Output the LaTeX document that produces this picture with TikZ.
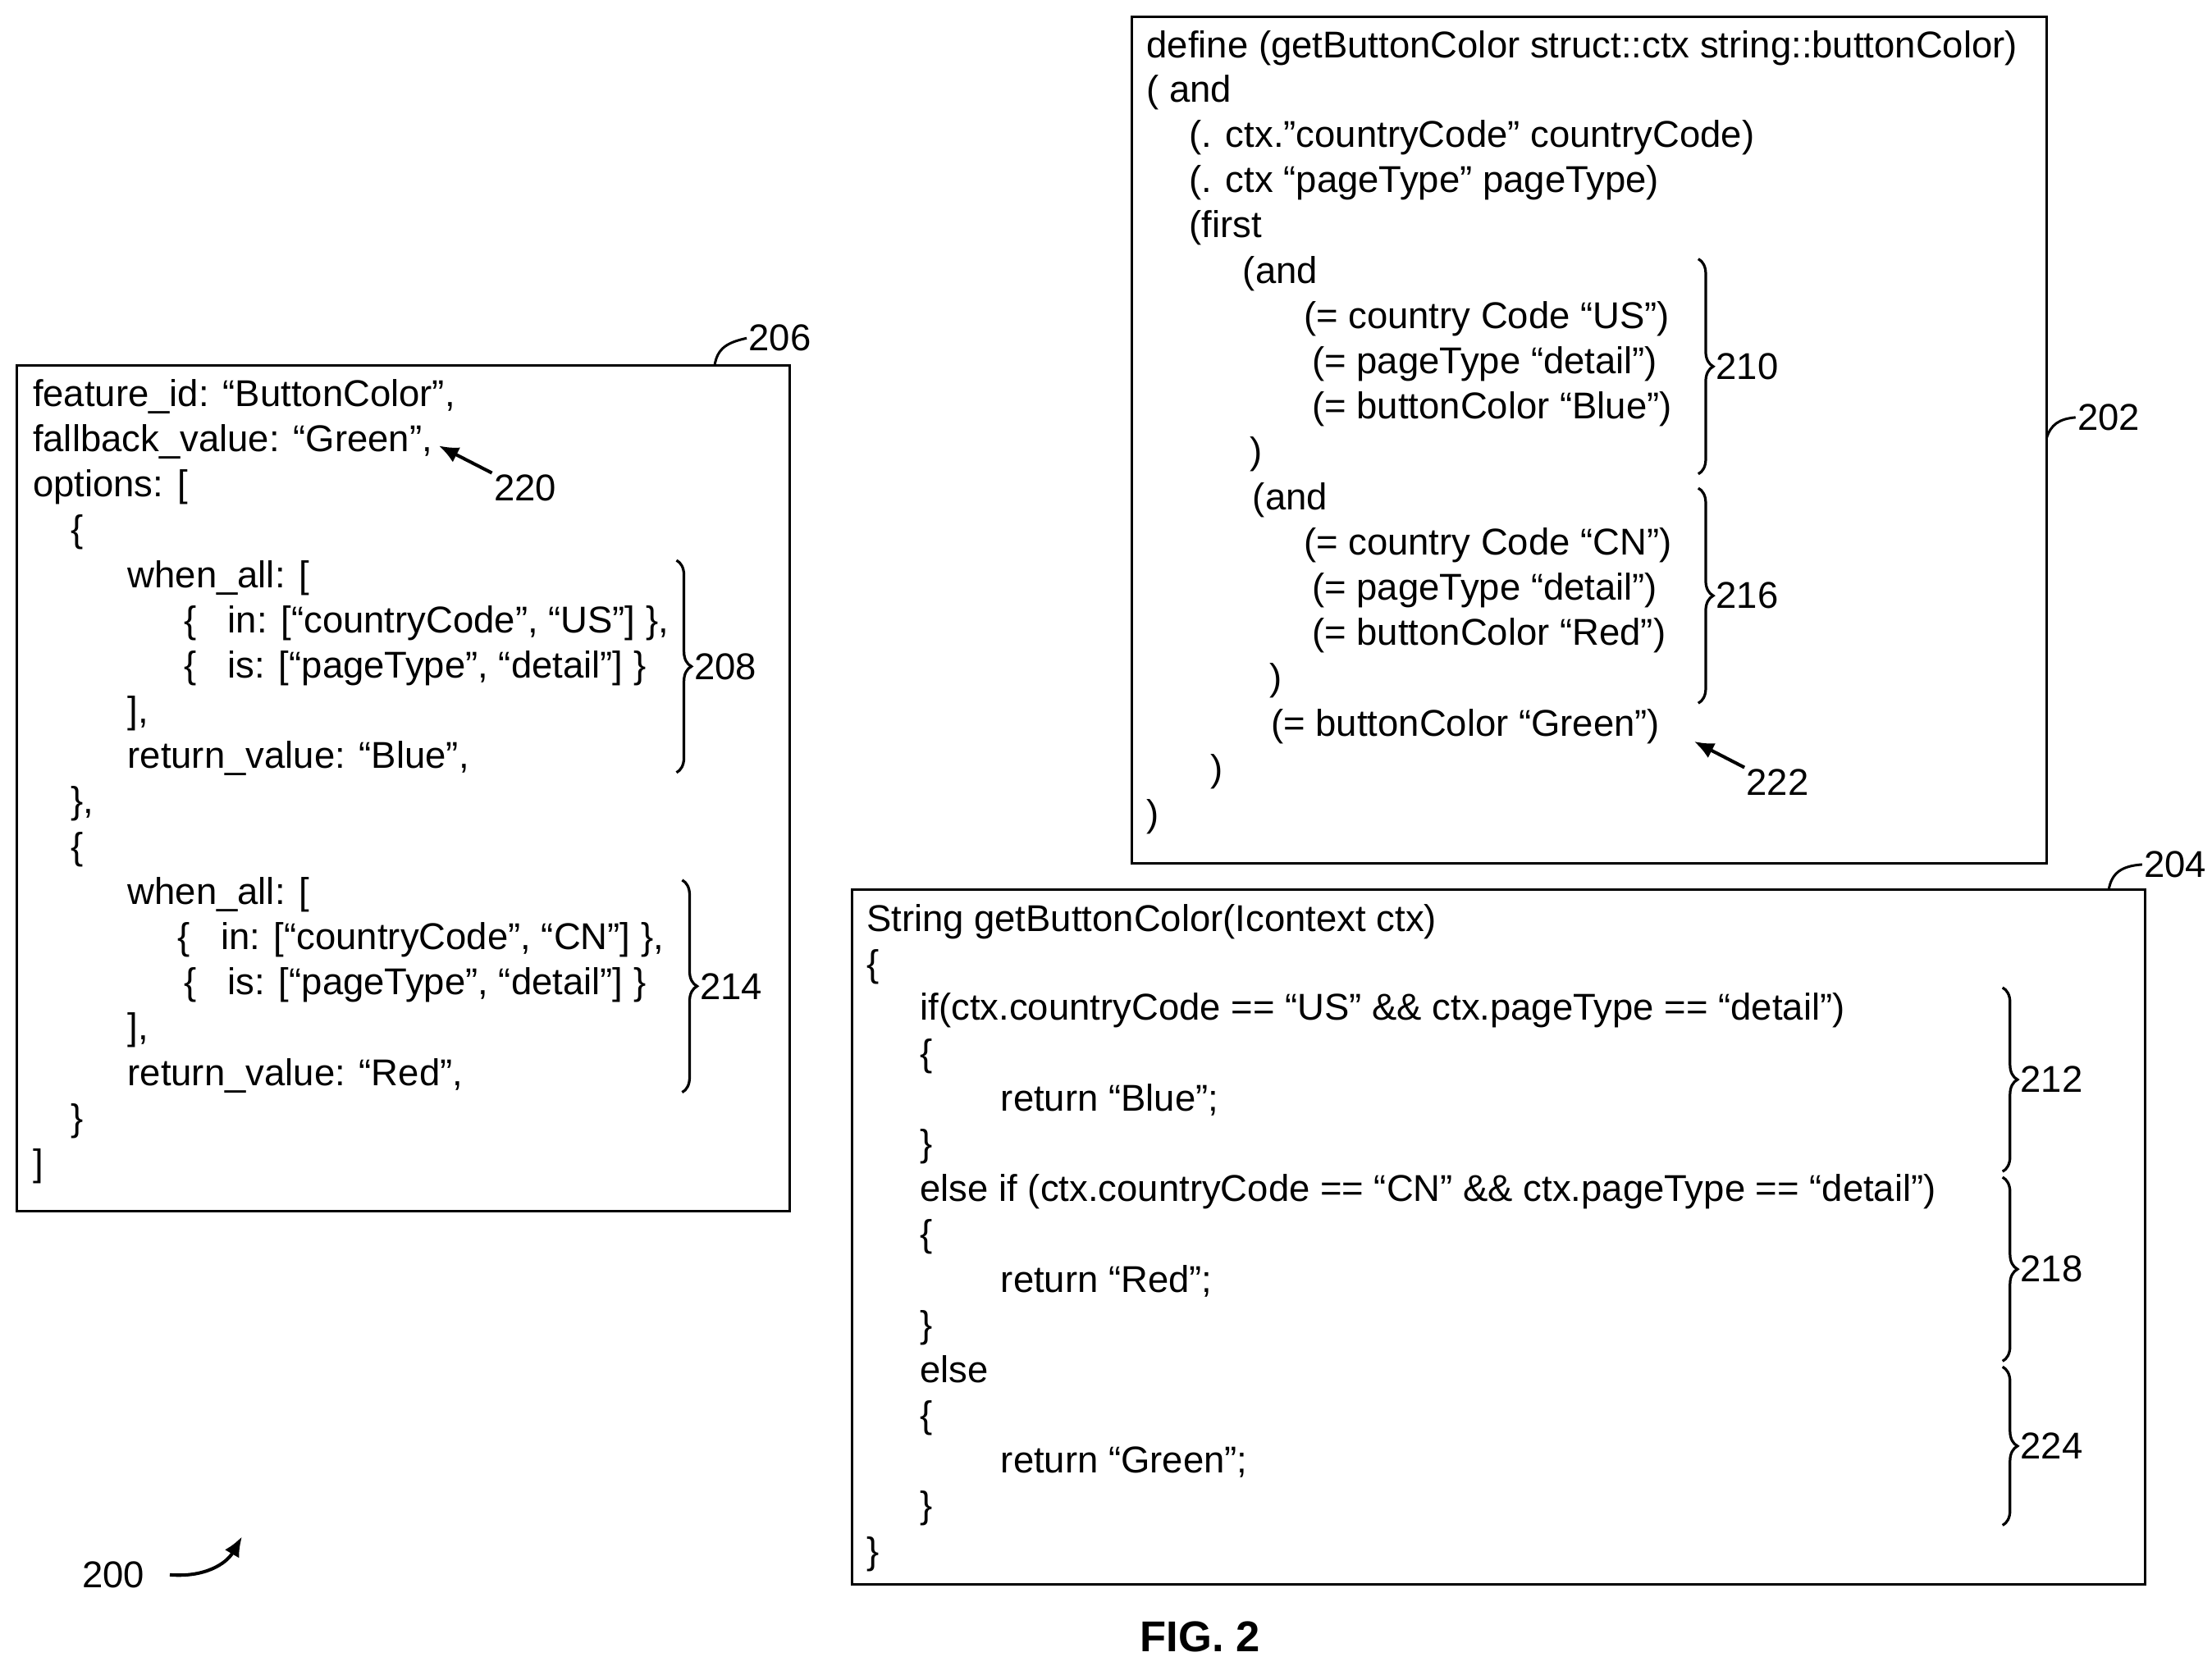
\documentclass[tikz,border=0pt]{standalone}
\usepackage{fontspec}
\setmainfont{Liberation Sans}
\usetikzlibrary{decorations.pathreplacing,arrows.meta}
\begin{document}
\begin{tikzpicture}
[x=0.3mm,y=-0.3mm,
  codeLine/.style={anchor=mid west,inner sep=0pt,font=\fontsize{22.5}{26}\selectfont},
  refLabel/.style={inner sep=1pt,font=\fontsize{22.5}{26}\selectfont},
  boxDecorate/.style={draw,line width=1.5pt},
  braceDecorate/.style={line width=1.6pt,decorate,decoration={brace,amplitude=9pt}},
  arrowDecorate/.style={-{Latex[length=12pt,width=10pt]},line width=2pt}]
\useasboundingbox (0,0) rectangle (1563,1177);
%% boxes
\draw[boxDecorate] (12,258) rectangle (558,856);
\draw[boxDecorate] (800,12) rectangle (1446,610);
\draw[boxDecorate] (602,629) rectangle (1516,1120);
%% code lines
\foreach \linename/\x/\y/\txt in {
  a1/23/284/{feature\_id: “ButtonColor”,},
  a2/23/316/{fallback\_value: “Green”,},
  a3/23/348/{options: [},
  a4/50/380/{\{},
  a5/90/412/{when\_all: [},
  a6/130/444/{\{\ \ \ in: [“countryCode”, “US”] \},},
  a7/130/476/{\{\ \ \ is: [“pageType”, “detail”] \}},
  a8/90/508/{],},
  a9/90/540/{return\_value: “Blue”,},
  a10/50/572/{\},},
  a11/50/604/{\{},
  a12/90/636/{when\_all: [},
  a13/125/668/{\{\ \ \ in: [“countryCode”, “CN”] \},},
  a14/130/700/{\{\ \ \ is: [“pageType”, “detail”] \}},
  a15/90/732/{],},
  a16/90/764/{return\_value: “Red”,},
  a17/50/796/{\}},
  a18/23/828/{]}}
{
  \node (\linename) at (\x,\y) [codeLine] {\txt};
}
\foreach \linename/\x/\y/\txt in {
  b1/810/38/{define (getButtonColor struct::ctx string::buttonColor)},
  b2/810/69/{( and},
  b3/840/101/{(. ctx.”countryCode” countryCode)},
  b4/840/133/{(. ctx “pageType” pageType)},
  b5/840/165/{(first},
  b6/878/197/{(and},
  b7/921/229/{(= country Code “US”)},
  b8/927/261/{(= pageType “detail”)},
  b9/927/293/{(= buttonColor “Blue”)},
  b10/883/325/{)},
  b11/885/357/{(and},
  b12/921/389/{(= country Code “CN”)},
  b13/927/421/{(= pageType “detail”)},
  b14/927/453/{(= buttonColor “Red”)},
  b15/897/485/{)},
  b16/898/517/{(= buttonColor “Green”)},
  b17/855/549/{)},
  b18/810/581/{)}}
{
  \node (\linename) at (\x,\y) [codeLine] {\txt};
}
\foreach \linename/\x/\y/\txt in {
  c1/612/655/{String getButtonColor(Icontext ctx)},
  c2/612/687/{\{},
  c3/650/718/{if(ctx.countryCode == “US” \&\& ctx.pageType == “detail”)},
  c4/650/750/{\{},
  c5/707/782/{return “Blue”;},
  c6/650/814/{\}},
  c7/650/846/{else if (ctx.countryCode == “CN” \&\& ctx.pageType == “detail”)},
  c8/650/878/{\{},
  c9/707/910/{return “Red”;},
  c10/650/942/{\}},
  c11/650/974/{else},
  c12/650/1006/{\{},
  c13/707/1038/{return “Green”;},
  c14/650/1070/{\}},
  c15/612/1102/{\}}}
{
  \node (\linename) at (\x,\y) [codeLine] {\txt};
}
%% braces
\foreach \bracename/\x/\top/\bot in {
  208/478/396/546, 214/482/622/772, 210/1200/183/335, 216/1200/345/497,
  212/1415/698/828, 218/1415/832/962, 224/1415/966/1078}
{
  \draw[braceDecorate] (\x,\top) -- (\x,\bot)
    node[midway,right=9pt,refLabel] (l\bracename) {\bracename};
}
%% reference labels with hooks
\node (l206) at (551,239) [refLabel] {206};
\node (l202) at (1490,295) [refLabel] {202};
\node (l204) at (1537,611) [refLabel] {204};
\coordinate (h206) at (505,258);
\coordinate (h202) at (1446,310);
\coordinate (h204) at (1490,629);
\draw[line width=1.5pt] (h206) .. controls (507,246) and (514,242) .. (l206.west);
\draw[line width=1.5pt] (h202) .. controls (1449,300) and (1455,296) .. (l202.west);
\draw[line width=1.5pt] (h204) .. controls (1492,617) and (1499,612) .. (l204.west);
%% arrows
\node (l220) at (371,345) [refLabel] {220};
\node (l222) at (1256,553) [refLabel] {222};
\node (l200) at (80,1113) [refLabel] {200};
\coordinate (t220) at (310,315);
\coordinate (t222) at (1197,524);
\coordinate (t200) at (171,1086);
\draw[arrowDecorate] (l220.north west) -- (t220);
\draw[arrowDecorate] (l222.north west) -- (t222);
\draw[arrowDecorate] (120,1113) .. controls (145,1115) and (160,1105) .. (t200);
\node (fig) at (848,1157) [font=\bfseries\fontsize{26}{30}\selectfont] {FIG. 2};
\end{tikzpicture}
\end{document}
